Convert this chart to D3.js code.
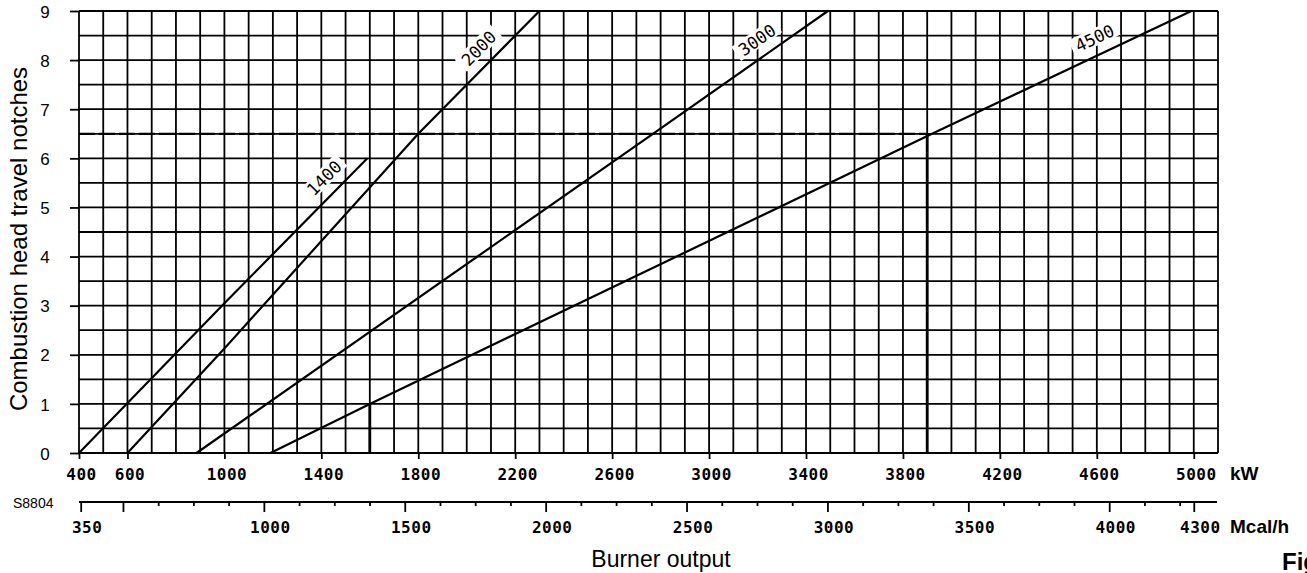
<!DOCTYPE html>
<html lang="en">
<head>
<meta charset="UTF-8">
<script src="https://d3js.org/d3.v7.min.js"></script>
<style>
  body { margin: 0; background: #fff; overflow: hidden; }
  svg { display: block; }
</style>
</head>
<body>
<svg width="1307" height="573"></svg>
<script>
// working ranges: burner output (kW) against combustion head notches
var line1400 = [[400, 0], [1000, 3.05], [1590, 6]];
var line2000 = [[600, 0], [1000, 2.13], [1800, 6.5], [2300, 9]];
var line3000 = [[885, 0], [2780, 6.54], [3490, 9]];
var line4500 = [[1190, 0], [1600, 1], [3920, 6.5], [4990, 9]];
var seriesNames = ["1400", "2000", "3000", "4500"];
var labelNotch = [5.6, 8.24, 8.41, 8.45];   // where the model name sits along each line

var kwTicks = [400, 600, 1000, 1400, 1800, 2200, 2600, 3000, 3400, 3800, 4200, 4600, 5000];
var mcalMajor = [350, 500, 1000, 1500, 2000, 2500, 3000, 3500, 4000, 4300];
var mcalLabels = ["350", "", "1000", "1500", "2000", "2500", "3000", "3500", "4000", "4300"];
var notchTicks = [0, 1, 2, 3, 4, 5, 6, 7, 8, 9];
var readingMain = [3900, 6.5];   // example reading (row + drop line)
var readingLow = [1600, 1];      // second drop line

var svg = d3.select("svg");
var ink = "#000";
var monoFont = "'DejaVu Sans Mono', monospace";
var sansFont = "'Liberation Sans', Arial, sans-serif";

var x = d3.scaleLinear().domain([400, 5100]).range([79, 1218]);
var y = d3.scaleLinear().domain([0, 9]).range([453, 11]);
// 1 kW = 0.86 Mcal/h
var xMcal = d3.scaleLinear().domain([400 * 0.86, 5100 * 0.86]).range([79, 1218]);

var g = svg.append("g");

// grid
g.selectAll(".vgrid").data(d3.range(400, 5101, 100)).enter().append("line")
    .attr("x1", function(d) { return x(d); }).attr("x2", function(d) { return x(d); })
    .attr("y1", y(0)).attr("y2", y(9))
    .attr("stroke", ink).attr("stroke-width", 1.8);
g.selectAll(".hgrid").data(d3.range(0, 9.01, 0.5)).enter().append("line")
    .attr("x1", x(400)).attr("x2", x(5100))
    .attr("y1", function(d) { return y(d); }).attr("y2", function(d) { return y(d); })
    .attr("stroke", ink).attr("stroke-width", 1.8);

// reading lines
[readingMain, readingLow].forEach(function(r) {
    g.append("line").attr("x1", x(r[0])).attr("x2", x(r[0]))
        .attr("y1", y(0)).attr("y2", y(r[1]))
        .attr("stroke", ink).attr("stroke-width", 2.8);
});
g.append("line").attr("x1", x(400)).attr("x2", x(readingMain[0]))
    .attr("y1", y(readingMain[1])).attr("y2", y(readingMain[1]))
    .attr("stroke", ink).attr("stroke-width", 2.3).attr("stroke-dasharray", "16 4");

// y axis ticks + labels
var yAxis = d3.axisLeft(y).tickValues(notchTicks).tickSize(9).tickSizeOuter(0);
var ya = svg.append("g").attr("transform", "translate(" + x(400) + ",0)").call(yAxis);
ya.select(".domain").remove();
ya.selectAll(".tick line").attr("stroke", ink).attr("stroke-width", 1.8);
ya.selectAll(".tick text")
    .attr("x", -34).attr("dy", "0.36em")
    .attr("text-anchor", "middle")
    .attr("font-family", sansFont).attr("font-size", 17).attr("fill", ink);

svg.append("text")
    .attr("transform", "translate(27,239) rotate(-90)")
    .attr("text-anchor", "middle")
    .attr("font-family", sansFont).attr("font-size", 24).attr("fill", ink)
    .text("Combustion head travel notches");

// kW axis
var kwAxis = d3.axisBottom(x).tickValues(kwTicks).tickSize(6).tickSizeOuter(0)
    .tickFormat(d3.format("d"));
var ka = svg.append("g").attr("transform", "translate(0," + y(0) + ")").call(kwAxis);
ka.select(".domain").remove();
ka.selectAll(".tick line").attr("stroke", ink).attr("stroke-width", 1.8);
ka.selectAll(".tick text")
    .attr("y", 27).attr("dy", 0).attr("dx", 2)
    .attr("font-family", monoFont).attr("font-weight", "bold")
    .attr("font-size", 16).attr("letter-spacing", 0.5).attr("fill", ink);
svg.append("text").attr("x", 1230).attr("y", 480)
    .attr("font-family", sansFont).attr("font-weight", "bold").attr("font-size", 19)
    .attr("fill", ink).text("kW");

// Mcal/h axis
var mcalY = 502;
var minorAxis = d3.axisBottom(xMcal)
    .tickValues(d3.range(500, 4300, 125).filter(function(v) { return v % 500 !== 0; }))
    .tickSize(4).tickSizeOuter(0).tickFormat("");
var mi = svg.append("g").attr("transform", "translate(0," + mcalY + ")").call(minorAxis);
mi.select(".domain").attr("d", "M" + x(400) + ",0H" + (x(5100) - 1))
    .attr("stroke", ink).attr("stroke-width", 2.2);
mi.selectAll(".tick line").attr("stroke", ink).attr("stroke-width", 1.8);

var majorAxis = d3.axisBottom(xMcal).tickValues(mcalMajor).tickSize(10).tickSizeOuter(0)
    .tickFormat(function(d, i) { return mcalLabels[i]; });
var ma = svg.append("g").attr("transform", "translate(0," + mcalY + ")").call(majorAxis);
ma.select(".domain").remove();
ma.selectAll(".tick line").attr("stroke", ink).attr("stroke-width", 1.8);
ma.selectAll(".tick text")
    .attr("y", 31).attr("dy", 0).attr("dx", 6)
    .attr("font-family", monoFont).attr("font-weight", "bold")
    .attr("font-size", 16).attr("letter-spacing", 0.5).attr("fill", ink);
svg.append("text").attr("x", 1230).attr("y", 533)
    .attr("font-family", sansFont).attr("font-weight", "bold").attr("font-size", 19)
    .attr("fill", ink).text("Mcal/h");

svg.append("text").attr("x", 13).attr("y", 508)
    .attr("font-family", sansFont).attr("font-size", 14).attr("fill", ink).text("S8804");
svg.append("text").attr("x", 661).attr("y", 567).attr("text-anchor", "middle")
    .attr("font-family", sansFont).attr("font-size", 23).attr("fill", ink).text("Burner output");
svg.append("text").attr("x", 1282).attr("y", 570)
    .attr("font-family", sansFont).attr("font-weight", "bold").attr("font-size", 24)
    .attr("fill", ink).text("Fig");

// burner lines
var lineGen = d3.line().x(function(d) { return x(d[0]); }).y(function(d) { return y(d[1]); });
var allLines = [line1400, line2000, line3000, line4500];

allLines.forEach(function(pts) {
    g.append("path").attr("d", lineGen(pts))
        .attr("fill", "none").attr("stroke", ink).attr("stroke-width", 2.2);
});

// model names along lines, with white knock-out behind
allLines.forEach(function(pts, i) {
    var kwAt = d3.scaleLinear().domain(pts.map(function(p) { return p[1]; }))
        .range(pts.map(function(p) { return p[0]; }));
    var n = labelNotch[i];
    var p0 = [x(kwAt(n - 0.3)), y(n - 0.3)], p1 = [x(kwAt(n + 0.3)), y(n + 0.3)];
    var dx = p1[0] - p0[0], dy = p1[1] - p0[1];
    var len = Math.sqrt(dx * dx + dy * dy);
    var sinT = Math.abs(dy) / len;
    var ang = Math.atan2(dy, dx) * 180 / Math.PI;
    var cx = x(kwAt(n)) - 17 / sinT, cy = y(n);
    var lg = svg.append("g").attr("transform", "translate(" + cx + "," + cy + ") rotate(" + ang + ")");
    lg.append("rect").attr("x", -25).attr("y", -9).attr("width", 50).attr("height", 17)
        .attr("fill", "#fff");
    lg.append("text").attr("text-anchor", "middle").attr("dy", "0.36em")
        .attr("font-family", monoFont).attr("font-size", 17).attr("fill", ink)
        .text(seriesNames[i]);
});
</script>
</body>
</html>
